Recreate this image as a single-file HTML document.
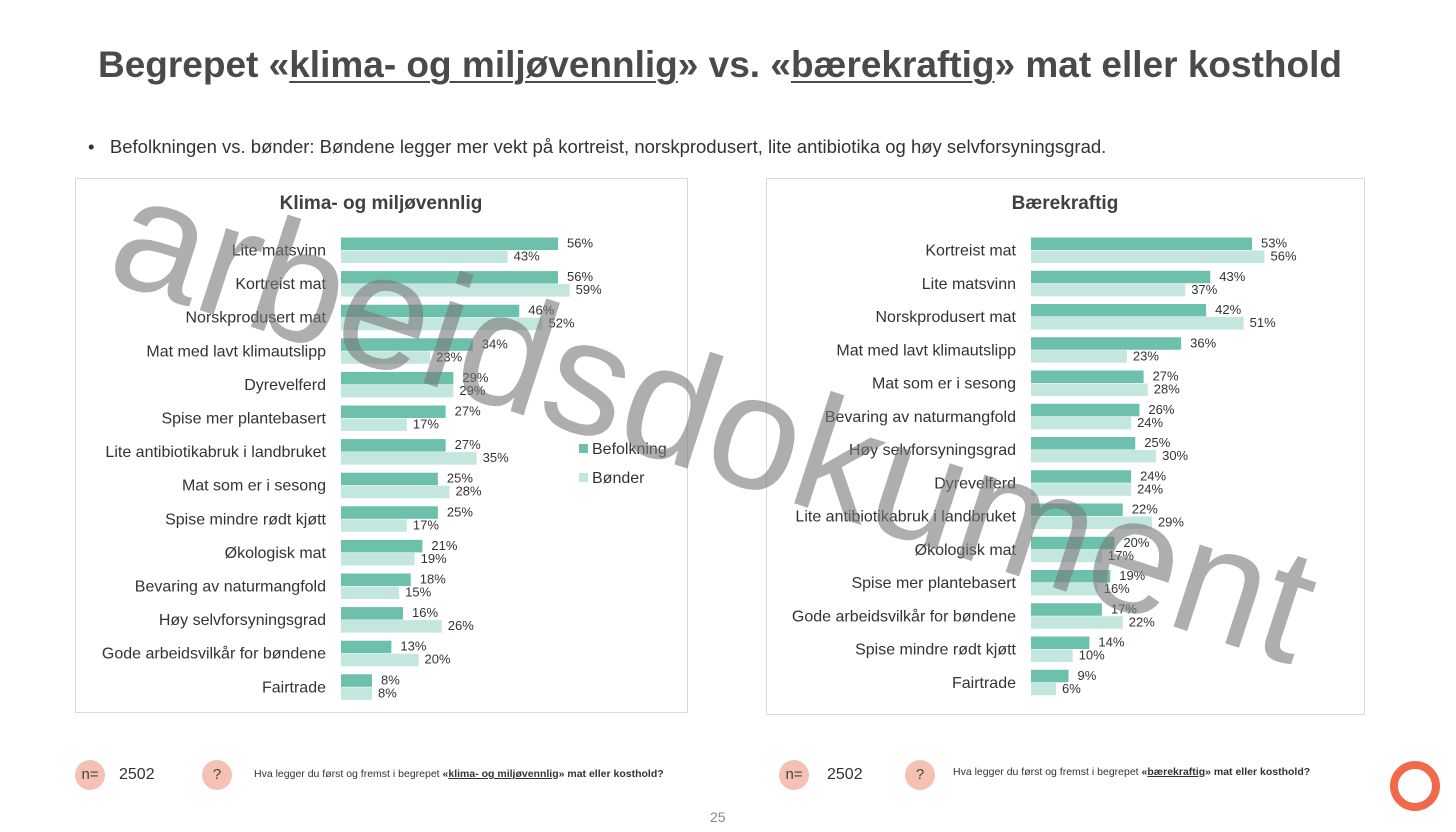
<!DOCTYPE html>
<html><head><meta charset="utf-8"><style>
body{margin:0;width:1456px;height:832px;background:#fff;position:relative;overflow:hidden;font-family:"Liberation Sans",sans-serif;color:#333}
.abs{position:absolute}
h1{position:absolute;left:0;width:1440px;top:44px;margin:0;text-align:center;font-size:37px;font-weight:bold;color:#4a4a48;letter-spacing:0px}
h1 u{text-decoration-thickness:2px;text-underline-offset:4px}
.panel{position:absolute;border:1px solid #d9d9d9;background:#fff}
.circle{position:absolute;width:30px;height:30px;border-radius:50%;background:#f6c0b4;text-align:center;line-height:30px;font-size:15px;color:#444}
</style></head><body>
<h1>Begrepet «<u>klima- og miljøvennlig</u>» vs. «<u>bærekraftig</u>» mat eller kosthold</h1>
<div class="abs" style="left:88px;top:136px;font-size:18.5px;color:#333">•&nbsp;&nbsp; Befolkningen vs. bønder: Bøndene legger mer vekt på kortreist, norskprodusert, lite antibiotika og høy selvforsyningsgrad.</div>
<div class="panel" style="left:75px;top:178px;width:611px;height:533px"></div>
<div class="panel" style="left:766px;top:178px;width:597px;height:535px"></div>
<svg id="chart" class="abs" style="left:0;top:0" width="1456" height="832"></svg>
<div class="circle" style="left:75px;top:760px">n=</div>
<div class="abs" style="left:119px;top:766px;font-size:16px">2502</div>
<div class="circle" style="left:202px;top:760px">?</div>
<div class="abs" style="left:254px;top:768px;font-size:10.5px">Hva legger du først og fremst i begrepet <b>«<u>klima- og miljøvennlig</u>» mat eller kosthold?</b></div>
<div class="circle" style="left:779px;top:760px">n=</div>
<div class="abs" style="left:827px;top:766px;font-size:16px">2502</div>
<div class="circle" style="left:905px;top:760px">?</div>
<div class="abs" style="left:953px;top:766px;font-size:10.5px">Hva legger du først og fremst i begrepet <b>«<u>bærekraftig</u>» mat eller kosthold?</b></div>
<div class="abs" style="left:710px;top:809px;font-size:14px;color:#888">25</div>
<div class="abs" style="left:1390px;top:761px;width:34px;height:34px;border-radius:50%;border:8px solid #f06a4a"></div>
<div class="abs" style="left:90px;top:335px;width:1240px;text-align:center;font-size:163px;color:rgba(120,120,120,0.6);transform:rotate(18deg);transform-origin:center;white-space:nowrap;line-height:1">arbeidsdokument</div>
<script>
const leftCats=["Lite matsvinn","Kortreist mat","Norskprodusert mat","Mat med lavt klimautslipp","Dyrevelferd","Spise mer plantebasert","Lite antibiotikabruk i landbruket","Mat som er i sesong","Spise mindre rødt kjøtt","Økologisk mat","Bevaring av naturmangfold","Høy selvforsyningsgrad","Gode arbeidsvilkår for bøndene","Fairtrade"];
const leftBef=[56,56,46,34,29,27,27,25,25,21,18,16,13,8];
const leftBon=[43,59,52,23,29,17,35,28,17,19,15,26,20,8];
const rightCats=["Kortreist mat","Lite matsvinn","Norskprodusert mat","Mat med lavt klimautslipp","Mat som er i sesong","Bevaring av naturmangfold","Høy selvforsyningsgrad","Dyrevelferd","Lite antibiotikabruk i landbruket","Økologisk mat","Spise mer plantebasert","Gode arbeidsvilkår for bøndene","Spise mindre rødt kjøtt","Fairtrade"];
const rightBef=[53,43,42,36,27,26,25,24,22,20,19,17,14,9];
const rightBon=[56,37,51,23,28,24,30,24,29,17,16,22,10,6];
const svg=document.getElementById('chart');
const NS='http://www.w3.org/2000/svg';
function mk(t,a){const e=document.createElementNS(NS,t);for(const k in a)e.setAttribute(k,a[k]);svg.appendChild(e);return e;}
function draw(side,cats,bef,bon,x0,k,y0,pitch,titleX,title){
  const xs=v=>x0+v*k;
  const yr=i=>y0+i*pitch;
  const t=mk('text',{x:titleX,y:209,'text-anchor':'middle','font-size':19,'font-weight':'bold',fill:'#404040'});
  t.textContent=title;
  
  
  cats.forEach((c,i)=>{
    const yc=yr(i);
    const l=mk('text',{x:x0-15,y:yc+6,'text-anchor':'end','font-size':16,fill:'#333'});
    l.textContent=c;
    
    
    const b1=mk('rect',{x:x0,y:yc-12,width:xs(bef[i])-x0,height:12.5,fill:'#6cc0ac'});
    
    
    const b2=mk('rect',{x:x0,y:yc+1,width:xs(bon[i])-x0,height:12.5,fill:'#c3e6de'});
    
    
    const v1=mk('text',{x:xs(bef[i])+9,y:yc-2,'font-size':13,fill:'#333'});
    v1.textContent=bef[i]+'%';
    
    
    const v2=mk('text',{x:xs(bon[i])+6,y:yc+11,'font-size':13,fill:'#333'});
    v2.textContent=bon[i]+'%';
    
    
  });
}
draw('left',leftCats,leftBef,leftBon,341,3.875,249.5,33.6,381,'Klima- og miljøvennlig');
draw('right',rightCats,rightBef,rightBon,1031,4.17,249.5,33.25,1065,'Bærekraftig');
const lg1=mk('rect',{x:579,y:444,width:9,height:9,fill:'#6cc0ac'});


const lt1=mk('text',{x:592,y:454,'font-size':16,fill:'#333'});lt1.textContent='Befolkning';


const lg2=mk('rect',{x:579,y:473,width:9,height:9,fill:'#c3e6de'});


const lt2=mk('text',{x:592,y:483,'font-size':16,fill:'#333'});lt2.textContent='Bønder';


</script>
</body></html>
